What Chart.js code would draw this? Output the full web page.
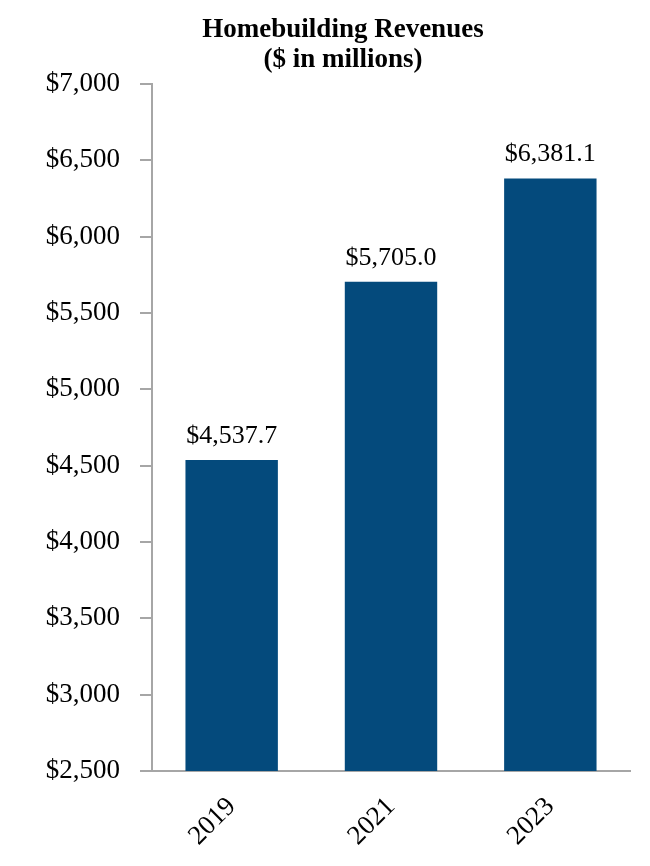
<!DOCTYPE html>
<html lang="en">
<head>
    <meta charset="UTF-8">
    <title>Homebuilding Revenues</title>
    <script src="https://cdn.jsdelivr.net/npm/chart.js"></script>
    <style>
        html, body {
            margin: 0;
            padding: 0;
            background: #fff;
        }
        .chart-container {
            width: 650px;
            height: 866px;
        }
    </style>
</head>
<body>

    <div class="chart-container">
        <canvas id="revChart"></canvas>
    </div>

    <script>
        // Data
        const years = ['2019', '2021', '2023'];
        const revenues = [4537.7, 5705.0, 6381.1];
        const titleLines = ['Homebuilding Revenues', '($ in millions)'];

        const serif = "'Liberation Serif', 'Times New Roman', serif";
        const axisGray = '#a6a6a6';

        // Two-line title, centred a little right of the canvas middle like the original
        const offsetTitle = {
            id: 'offsetTitle',
            afterDraw(chart) {
                const ctx = chart.ctx;
                ctx.save();
                ctx.font = 'bold 27px ' + serif;
                ctx.fillStyle = '#000';
                ctx.textAlign = 'center';
                ctx.textBaseline = 'middle';
                titleLines.forEach((line, i) => {
                    ctx.fillText(line, 343, 30 + i * 30);
                });
                ctx.restore();
            }
        };

        // Value labels above each bar (no datalabels plugin offline)
        const barLabels = {
            id: 'barLabels',
            afterDatasetsDraw(chart) {
                const ctx = chart.ctx;
                const meta = chart.getDatasetMeta(0);
                ctx.save();
                ctx.font = '26px ' + serif;
                ctx.fillStyle = '#000';
                ctx.textAlign = 'center';
                ctx.textBaseline = 'alphabetic';
                meta.data.forEach((bar, i) => {
                    const v = chart.data.datasets[0].data[i];
                    const txt = '$' + v.toLocaleString('en-US', { minimumFractionDigits: 1, maximumFractionDigits: 1 });
                    ctx.fillText(txt, bar.x, bar.y - 17);
                });
                ctx.restore();
            }
        };

        const ctx = document.getElementById('revChart').getContext('2d');
        new Chart(ctx, {
            type: 'bar',
            data: {
                labels: years,
                datasets: [{
                    data: revenues,
                    backgroundColor: '#044a7c',
                    borderWidth: 0,
                    barPercentage: 0.58,
                    categoryPercentage: 1.0
                }]
            },
            options: {
                responsive: true,
                maintainAspectRatio: false,
                animation: false,
                layout: {
                    padding: { left: 0, right: 20, top: 84, bottom: 0 }
                },
                plugins: {
                    legend: { display: false },
                    tooltip: { enabled: false },
                    title: { display: false }
                },
                scales: {
                    x: {
                        grid: { display: false },
                        border: { display: true, color: axisGray, width: 2 },
                        ticks: {
                            color: '#000',
                            font: { family: serif, size: 27 },
                            maxRotation: 45,
                            minRotation: 45,
                            padding: 12
                        },
                        afterFit(scale) { scale.height = 95; }
                    },
                    y: {
                        min: 2500,
                        max: 7000,
                        grid: {
                            drawOnChartArea: false,
                            drawTicks: true,
                            tickLength: 12,
                            color: axisGray,
                            lineWidth: 2
                        },
                        border: { display: true, color: axisGray, width: 2 },
                        ticks: {
                            stepSize: 500,
                            color: '#000',
                            padding: 20,
                            font: { family: serif, size: 27 },
                            callback: v => '$' + v.toLocaleString('en-US')
                        },
                        afterFit(scale) { scale.width = 152; }
                    }
                }
            },
            plugins: [barLabels, offsetTitle]
        });
    </script>

</body>
</html>
